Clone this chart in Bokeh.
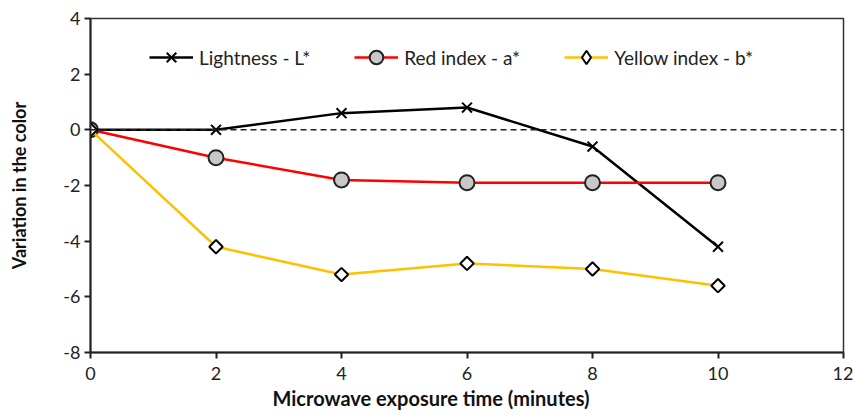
import math
from bokeh.plotting import figure
from bokeh.models import Range1d, Span, Legend, LegendItem, FixedTicker, Title
from bokeh.embed import file_html
from bokeh.resources import INLINE

time_min = [0, 2, 4, 6, 8, 10]
lightness = [0, 0, 0.6, 0.8, -0.6, -4.2]
red_index = [0, -1.0, -1.8, -1.9, -1.9, -1.9]
yellow_index = [0, -4.2, -5.2, -4.8, -5.0, -5.6]
x_ticks = [0, 2, 4, 6, 8, 10, 12]
y_ticks = [-8, -6, -4, -2, 0, 2, 4]
x_title = "Microwave exposure time (minutes)"
y_title = "Variation in the color"

FONT = "Lato"

p = figure(width=853, height=418, output_backend="svg", toolbar_location=None,
           x_range=Range1d(0, 12), y_range=Range1d(-8, 4),
           min_border_left=90, min_border_top=18, min_border_right=10, min_border_bottom=66)
p.grid.visible = False
p.outline_line_color = "#333333"
p.outline_line_width = 1.5

for ax, ticks in ((p.xaxis[0], x_ticks), (p.yaxis[0], y_ticks)):
    ax.ticker = FixedTicker(ticks=ticks)
    ax.major_label_overrides = {t: str(t) for t in ticks}
    ax.minor_tick_line_color = None
    ax.major_tick_in = 0
    ax.major_tick_out = 6
    ax.major_tick_line_width = 2
    ax.major_tick_line_color = "#222222"
    ax.axis_line_width = 2
    ax.axis_line_color = "#222222"
    ax.major_label_text_font = FONT
    ax.major_label_text_font_size = "18px"
    ax.major_label_text_color = "#222222"
    ax.axis_label_text_font = FONT
    ax.axis_label_text_font_style = "bold"
    ax.axis_label_text_color = "#111111"

p.yaxis.axis_label = y_title
p.yaxis.axis_label_text_font_size = "18px"
p.xaxis.major_label_standoff = 8
p.yaxis.major_label_standoff = 4
p.yaxis.axis_label_standoff = 30

# x-axis title, placed left of the frame centre as in the original
p.add_layout(Title(text=x_title, align="left", offset=182, standoff=3,
                   vertical_align="bottom",
                   text_font=FONT, text_font_size="20px", text_font_style="bold",
                   text_color="#111111"), "below")

p.add_layout(Span(location=0, dimension="width", line_color="#222222",
                  line_width=1.5, line_dash="6 4"))

lw = 2.5
l1 = p.line(time_min, lightness, line_color="black", line_width=lw)
m1 = p.scatter(time_min, lightness, marker="x", size=14, line_color="black", line_width=2)
l2 = p.line(time_min, red_index, line_color="#ff0000", line_width=lw)
m2 = p.scatter(time_min, red_index, marker="circle", size=15, fill_color="#c8c8c8",
               line_color="#222222", line_width=2)
l3 = p.line(time_min, yellow_index, line_color="#ffc000", line_width=lw)
# diamond drawn beneath the rotated squares; it supplies the legend swatch
m3_key = p.scatter(time_min, yellow_index, marker="diamond", size=12,
                   fill_color="white", line_color="black", line_width=2)
m3 = p.scatter(time_min, yellow_index, marker="square", size=9.5, angle=math.pi / 4,
               fill_color="white", line_color="black", line_width=2)

legend = Legend(items=[
    LegendItem(label="Lightness - L*", renderers=[l1, m1]),
    LegendItem(label="Red index - a*", renderers=[l2, m2]),
    LegendItem(label="Yellow index - b*", renderers=[l3, m3_key]),
], orientation="horizontal", location=(59, 278))
legend.border_line_color = None
legend.background_fill_alpha = 0
legend.padding = 0
legend.margin = 0
legend.spacing = 44
legend.glyph_width = 44
legend.glyph_height = 34
legend.label_height = 34
legend.label_standoff = 6
legend.label_text_font = FONT
legend.label_text_font_size = "19px"
legend.label_text_color = "#222222"
p.add_layout(legend)

open("out.html", "w").write(file_html(p, INLINE))
